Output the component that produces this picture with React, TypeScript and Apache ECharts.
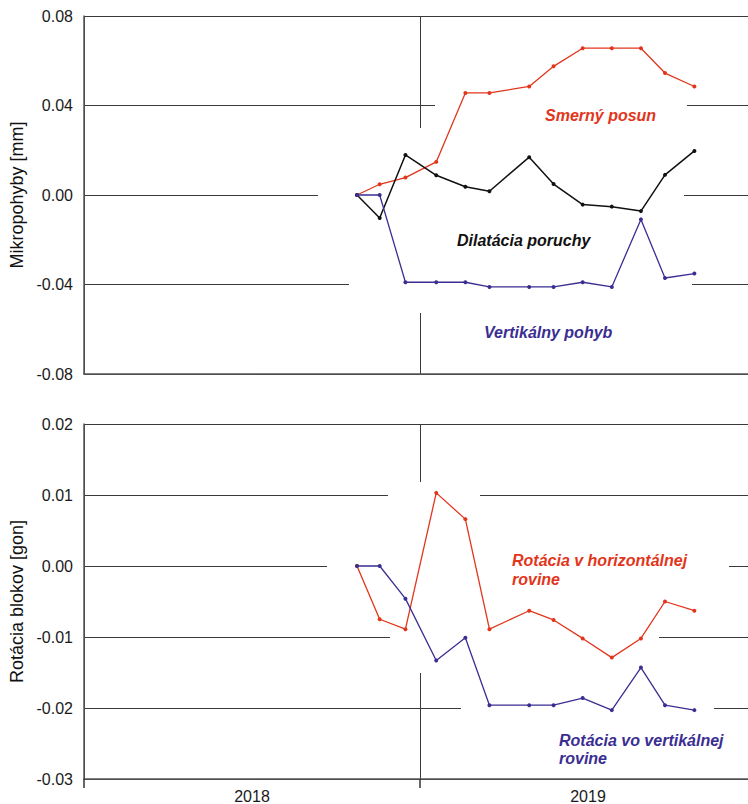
import React, { useEffect, useRef } from 'react';
import * as echarts from 'echarts';

// x values: months elapsed since 1 January 2018
const monthsSince2018 = [9.75, 10.56, 11.48, 12.58, 13.62, 14.48, 15.9, 16.77, 17.81, 18.85, 19.89, 20.75, 21.8];
const years = ['2018', '2019'];

// top panel [mm]
const smernyPosun = [0, 0.0048, 0.0078, 0.0148, 0.0456, 0.0456, 0.0485, 0.0575, 0.0656, 0.0656, 0.0656, 0.0545, 0.0485];
const dilataciaPoruchy = [0, -0.0103, 0.0179, 0.0088, 0.0037, 0.0017, 0.0169, 0.0049, -0.0043, -0.0052, -0.0072, 0.009, 0.0197];
const vertikalnyPohyb = [0, 0, -0.039, -0.039, -0.039, -0.0411, -0.0411, -0.0411, -0.039, -0.0411, -0.0109, -0.0371, -0.0351];

// bottom panel [gon]
const rotaciaHorizontalna = [0, -0.0075, -0.0089, 0.0103, 0.0066, -0.0089, -0.0063, -0.0076, -0.0102, -0.0129, -0.0102, -0.005, -0.0063];
const rotaciaVertikalna = [0, 0, -0.0046, -0.0133, -0.0101, -0.0196, -0.0196, -0.0196, -0.0186, -0.0203, -0.0143, -0.0196, -0.0203];

const RED = '#e2361c';
const BLUE = '#3a2e92';
const BLACK = '#111111';
const FONT = '"Liberation Sans", Arial, sans-serif';

const pairs = (vals: number[]) => monthsSince2018.map((m, i) => [m, vals[i]]);

const axisLineStyle = { color: '#555', width: 1.5 };
const gridLineStyle = { color: '#3a3a3a', width: 1 };

function lineSeries(name: string, vals: number[], color: string, axisIdx: number, width = 1.3) {
  return {
    type: 'line',
    name,
    xAxisIndex: axisIdx * 2,
    yAxisIndex: axisIdx,
    data: pairs(vals),
    symbol: 'circle',
    symbolSize: 4,
    itemStyle: { color },
    lineStyle: { color, width },
    z: 3,
  };
}

function gap(x: number, y: number, w: number, h: number) {
  return { type: 'rect', z: 1, silent: true, shape: { x, y, width: w, height: h }, style: { fill: '#ffffff' } };
}

function label(text: string, x: number, y: number, color: string) {
  return {
    type: 'text',
    z: 5,
    x,
    y,
    style: {
      text,
      fill: color,
      font: `italic bold 16px ${FONT}`,
      textAlign: 'left',
      textVerticalAlign: 'middle',
    },
  };
}

export default function App() {
  const ref = useRef<HTMLDivElement>(null);
  useEffect(() => {
    const chart = echarts.init(ref.current!, null, { renderer: 'svg' });
    const yLabel = {
      fontSize: 16,
      color: '#1a1a1a',
      fontFamily: FONT,
      margin: 11,
      formatter: (v: number) => v.toFixed(2),
    };
    chart.setOption({
      animation: false,
      backgroundColor: '#ffffff',
      textStyle: { fontFamily: FONT },
      grid: [
        { left: 84, width: 672, top: 16, height: 358, outerBoundsMode: 'none', containLabel: false },
        { left: 84, width: 672, top: 424, height: 355, outerBoundsMode: 'none', containLabel: false },
      ],
      xAxis: [
        { type: 'value', gridIndex: 0, position: 'bottom', min: 0, max: 24, show: false },
        {
          type: 'category',
          gridIndex: 0,
          position: 'bottom',
          data: years,
          boundaryGap: true,
          axisLine: { lineStyle: axisLineStyle },
          axisTick: { show: false },
          axisLabel: { show: false },
          splitLine: { show: true, lineStyle: gridLineStyle },
        },
        { type: 'value', gridIndex: 1, position: 'bottom', min: 0, max: 24, show: false },
        {
          type: 'category',
          gridIndex: 1,
          position: 'bottom',
          data: years,
          boundaryGap: true,
          axisLine: { lineStyle: axisLineStyle },
          axisTick: { show: true, length: 9, lineStyle: { color: '#333', width: 1.5 } },
          axisLabel: { fontSize: 16, color: '#1a1a1a', fontFamily: FONT, margin: 9 },
          splitLine: { show: true, lineStyle: gridLineStyle },
        },
      ],
      yAxis: [
        {
          type: 'value',
          gridIndex: 0,
          min: -0.08,
          max: 0.08,
          interval: 0.04,
          name: 'Mikropohyby [mm]',
          nameLocation: 'middle',
          nameGap: 58,
          nameTextStyle: { fontSize: 18, color: '#111', fontFamily: FONT },
          axisLine: { show: true, lineStyle: axisLineStyle },
          axisTick: { show: false },
          axisLabel: yLabel,
          splitLine: { show: true, lineStyle: gridLineStyle },
        },
        {
          type: 'value',
          gridIndex: 1,
          min: -0.03,
          max: 0.02,
          interval: 0.01,
          name: 'Rotácia blokov [gon]',
          nameLocation: 'middle',
          nameGap: 58,
          nameTextStyle: { fontSize: 18, color: '#111', fontFamily: FONT },
          axisLine: { show: true, lineStyle: axisLineStyle },
          axisTick: { show: false },
          axisLabel: yLabel,
          splitLine: { show: true, lineStyle: gridLineStyle },
        },
      ],
      series: [
        lineSeries('Smerný posun', smernyPosun, RED, 0),
        lineSeries('Dilatácia poruchy', dilataciaPoruchy, BLACK, 0, 1.5),
        lineSeries('Vertikálny pohyb', vertikalnyPohyb, BLUE, 0),
        lineSeries('Rotácia v horizontálnej rovine', rotaciaHorizontalna, RED, 1),
        lineSeries('Rotácia vo vertikálnej rovine', rotaciaVertikalna, BLUE, 1),
      ],
      graphic: [
        // white gaps interrupting the grid lines (as in the original figure)
        gap(435, 101, 252, 8),
        gap(318, 190, 366, 8),
        gap(349, 279, 343, 8),
        gap(416, 128, 8, 185),
        gap(388, 490, 92, 8),
        gap(327, 562, 402, 8),
        gap(390, 633, 269, 8),
        gap(461, 704, 253, 8),
        gap(416, 482, 8, 191),
        label('Smerný posun', 545, 115, RED),
        label('Dilatácia poruchy', 457, 240, BLACK),
        label('Vertikálny pohyb', 484, 332, BLUE),
        label('Rotácia v horizontálnej', 512, 560, RED),
        label('rovine', 512, 579, RED),
        label('Rotácia vo vertikálnej', 559, 740, BLUE),
        label('rovine', 559, 758, BLUE),
      ],
    });
    return () => chart.dispose();
  }, []);
  return <div ref={ref} style={{ position: 'absolute', left: 0, top: 0, width: 748, height: 804 }} />;
}
